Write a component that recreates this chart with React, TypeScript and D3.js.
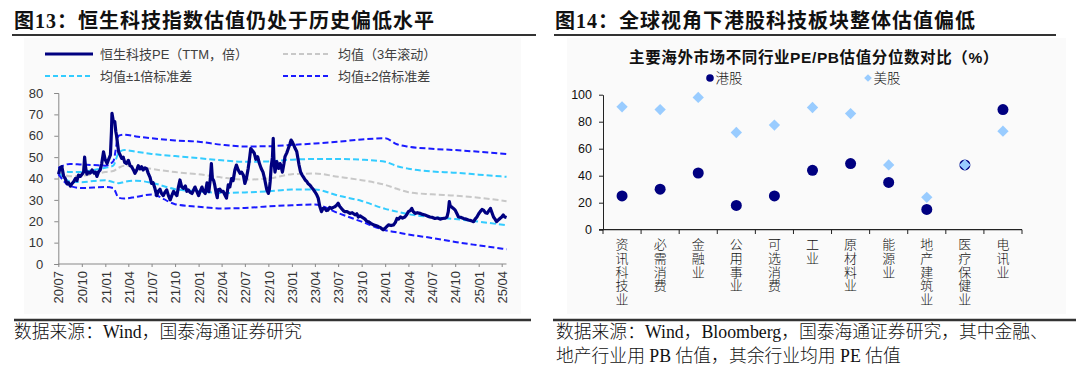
import React, { useEffect, useRef } from 'react';
import * as d3 from 'd3';

// ---- 图13 恒生科技PE(TTM) ----
const peDates = [
  '2020-07-02', '2020-07-08', '2020-07-15', '2020-07-22', '2020-07-28', '2020-08-04', '2020-08-10', '2020-08-17',
  '2020-08-23', '2020-08-30', '2020-09-06', '2020-09-12', '2020-09-18', '2020-09-25', '2020-10-02', '2020-10-08',
  '2020-10-12', '2020-10-16', '2020-10-21', '2020-10-28', '2020-11-03', '2020-11-10', '2020-11-18', '2020-11-24',
  '2020-11-29', '2020-12-05', '2020-12-12', '2020-12-18', '2020-12-25', '2020-12-31', '2021-01-08', '2021-01-14',
  '2021-01-21', '2021-01-25', '2021-01-27', '2021-02-01', '2021-02-07', '2021-02-11', '2021-02-14', '2021-02-18',
  '2021-02-22', '2021-02-28', '2021-03-06', '2021-03-12', '2021-03-18', '2021-03-25', '2021-04-01', '2021-04-08',
  '2021-04-14', '2021-04-21', '2021-04-27', '2021-05-04', '2021-05-10', '2021-05-17', '2021-05-23', '2021-05-29',
  '2021-06-05', '2021-06-12', '2021-06-18', '2021-06-25', '2021-07-01', '2021-07-07', '2021-07-14', '2021-07-21',
  '2021-07-27', '2021-08-03', '2021-08-09', '2021-08-16', '2021-08-22', '2021-08-29', '2021-09-05', '2021-09-12',
  '2021-09-18', '2021-09-25', '2021-10-01', '2021-10-08', '2021-10-14', '2021-10-20', '2021-10-27', '2021-11-03',
  '2021-11-10', '2021-11-16', '2021-11-22', '2021-11-29', '2021-12-06', '2021-12-12', '2021-12-18', '2021-12-25',
  '2022-01-01', '2022-01-07', '2022-01-14', '2022-01-20', '2022-01-27', '2022-02-03', '2022-02-10', '2022-02-16',
  '2022-02-20', '2022-02-24', '2022-03-01', '2022-03-05', '2022-03-11', '2022-03-15', '2022-03-18', '2022-03-25',
  '2022-04-01', '2022-04-07', '2022-04-14', '2022-04-20', '2022-04-27', '2022-05-03', '2022-05-10', '2022-05-16',
  '2022-05-23', '2022-05-29', '2022-06-05', '2022-06-12', '2022-06-18', '2022-06-25', '2022-07-01', '2022-07-07',
  '2022-07-14', '2022-07-20', '2022-07-24', '2022-07-31', '2022-08-07', '2022-08-13', '2022-08-20', '2022-08-27',
  '2022-09-03', '2022-09-10', '2022-09-16', '2022-09-21', '2022-09-25', '2022-10-01', '2022-10-05', '2022-10-08',
  '2022-10-12', '2022-10-17', '2022-10-20', '2022-10-23', '2022-10-27', '2022-11-03', '2022-11-10', '2022-11-16',
  '2022-11-21', '2022-11-25', '2022-12-01', '2022-12-05', '2022-12-12', '2022-12-18', '2022-12-24', '2022-12-29',
  '2023-01-03', '2023-01-08', '2023-01-14', '2023-01-20', '2023-01-29', '2023-02-04', '2023-02-10', '2023-02-16',
  '2023-02-22', '2023-03-01', '2023-03-05', '2023-03-12', '2023-03-18', '2023-03-25', '2023-04-01', '2023-04-08',
  '2023-04-14', '2023-04-20', '2023-04-27', '2023-05-03', '2023-05-10', '2023-05-16', '2023-05-22', '2023-05-29',
  '2023-06-05', '2023-06-12', '2023-06-18', '2023-06-25', '2023-07-01', '2023-07-07', '2023-07-14', '2023-07-21',
  '2023-07-27', '2023-08-05', '2023-08-16', '2023-08-25', '2023-09-05', '2023-09-12', '2023-09-18', '2023-09-25',
  '2023-10-01', '2023-10-08', '2023-10-14', '2023-10-21', '2023-10-27', '2023-11-06', '2023-11-16', '2023-11-25',
  '2023-12-05', '2023-12-14', '2023-12-24', '2024-01-03', '2024-01-14', '2024-01-24', '2024-02-03', '2024-02-10',
  '2024-02-16', '2024-02-22', '2024-03-01', '2024-03-09', '2024-03-18', '2024-03-25', '2024-04-01', '2024-04-08',
  '2024-04-14', '2024-04-20', '2024-04-27', '2024-05-06', '2024-05-16', '2024-05-26', '2024-06-05', '2024-06-14',
  '2024-06-24', '2024-07-04', '2024-07-14', '2024-07-24', '2024-08-03', '2024-08-12', '2024-08-24', '2024-08-30',
  '2024-09-04', '2024-09-08', '2024-09-12', '2024-09-16', '2024-09-24', '2024-10-01', '2024-10-08', '2024-10-14',
  '2024-10-24', '2024-11-03', '2024-11-12', '2024-11-22', '2024-12-02', '2024-12-12', '2024-12-18', '2024-12-25',
  '2025-01-01', '2025-01-07', '2025-01-14', '2025-01-20', '2025-01-27', '2025-02-03', '2025-02-10', '2025-02-16',
  '2025-02-22', '2025-02-28', '2025-03-06', '2025-03-12', '2025-03-18', '2025-03-25', '2025-04-01', '2025-04-07',
  '2025-04-13', '2025-04-20',
];
const peValues = [
  42, 45, 45.5, 41, 40, 37.5, 38, 36.5,
  37.5, 38.5, 40, 39, 41.6, 41, 42, 43,
  50, 45, 42, 43, 42.5, 44, 42.5, 43,
  41, 43, 44, 47, 52.5, 49, 47, 49,
  51, 62, 70.5, 67, 66.6, 62, 60, 56,
  52.5, 51, 49.4, 50, 47.5, 47, 48.5, 46,
  45.5, 44, 42.4, 44, 46, 44.5, 45.5, 44,
  45, 44.5, 42.4, 40.5, 37.7, 38, 35.4, 32,
  34, 35, 33, 32, 33.5, 34.7, 32, 30,
  32, 34, 33, 32, 36, 39.3, 36, 35.4,
  36.5, 34, 34.7, 33.5, 33, 34.5, 36, 34,
  32, 34, 36, 34, 33, 38, 33.8, 40,
  47, 40, 39, 37, 33, 31, 34.7, 35,
  33.8, 34, 32.3, 30.8, 37, 36, 40, 39,
  44, 46.3, 44, 42.4, 43, 41.6, 37.7, 40,
  44.7, 50, 54, 53, 51.8, 49, 50.2, 47,
  44.7, 43, 40, 37, 34.7, 33, 35, 38.5,
  45.5, 50, 58.8, 48, 43, 47.9, 44.7, 47,
  45, 43, 47, 50.2, 52, 54, 56, 58,
  57, 55.7, 54, 52.6, 46.3, 43, 41.6, 40.5,
  39.3, 38.5, 37.7, 37, 36, 35, 33.8, 32.5,
  30.8, 27, 24.5, 26, 26, 25, 25.2, 26.5,
  26, 26.5, 26.8, 27.5, 28.4, 27, 26, 25,
  24.5, 24.5, 23.7, 24, 23, 23.5, 22, 22.5,
  22, 21.5, 21, 20, 19.8, 19, 18.3, 18,
  17.5, 17, 16, 17, 18.3, 18, 18.3, 19.5,
  21.3, 21, 22, 21.5, 22, 23, 24.5, 25,
  26, 24.5, 23.7, 24, 23.7, 23.2, 22.9, 22.5,
  22, 21.8, 21.3, 21.5, 21, 21.3, 21.5, 22,
  24.5, 29.2, 27, 26.8, 26, 25.2, 23.5, 22,
  21.8, 21.3, 21, 20.6, 20.3, 19.8, 21, 22,
  23.5, 24.5, 25.5, 25.2, 24, 23.7, 25, 26,
  24, 22, 21, 19.8, 20.5, 21.3, 22, 22.9,
  22, 21.7,
];

// 3年滚动均值及标准差带
const bandDates = [
  '2020-07-01', '2020-08-16', '2020-10-01', '2020-11-16', '2021-01-01', '2021-02-01', '2021-02-22', '2021-03-16',
  '2021-05-01', '2021-07-01', '2021-10-01', '2022-01-01', '2022-04-01', '2022-07-01', '2022-10-01', '2023-01-01',
  '2023-04-01', '2023-07-01', '2023-10-01', '2024-01-01', '2024-02-16', '2024-04-01', '2024-07-01', '2024-10-01',
  '2025-01-01', '2025-04-20',
];
const meanValues = [43.5, 41, 41.3, 42, 43, 43.5, 45, 46, 45.8, 44.5, 43, 42, 40.5, 39.5, 40, 42, 42.3, 40.8, 39.2, 37, 35.2, 33.6, 32.6, 32, 31, 29.4];
const plus1Values = [44.5, 43, 43, 44, 45, 46, 52, 53.3, 52.5, 51.5, 50.5, 49.5, 48.5, 47.8, 48, 48.8, 49.1, 49.1, 48.8, 47.8, 45.8, 44.6, 43.3, 42.7, 41.8, 40.8];
const minus1Values = [43, 38.6, 38.3, 38.8, 39.2, 38.3, 37.8, 38.4, 39, 38, 35, 34, 33.2, 33.5, 34, 34.8, 34.8, 32, 29.5, 25.8, 24.5, 23.3, 22, 21, 19.8, 18.1];
const plus2Values = [45, 46.8, 46.5, 46.3, 46, 48, 60, 60.5, 59.7, 58.8, 57.8, 57.2, 55.8, 55, 55.1, 55.7, 56.4, 57.2, 58.3, 58.8, 56, 54.9, 53.9, 53.3, 52.5, 51.4];
const minus2Values = [42, 36.5, 35.5, 35.8, 36, 35.5, 31, 30.6, 31.4, 32.5, 28, 26.8, 26, 26.2, 27, 27.5, 27.8, 23.8, 19.8, 15.8, 14.8, 13.8, 12.2, 10.3, 8.7, 6.9];

const leftYTicks = [0, 10, 20, 30, 40, 50, 60, 70, 80];
const leftXTicks = [
  '20/07', '20/10', '21/01', '21/04', '21/07', '21/10', '22/01', '22/04', '22/07', '22/10',
  '23/01', '23/04', '23/07', '23/10', '24/01', '24/04', '24/07', '24/10', '25/01', '25/04',
];

// ---- 图14 分位数 ----
const industries = ['资讯科技业', '必需消费', '金融业', '公用事业', '可选消费', '工业', '原材料业', '能源业', '地产建筑业', '医疗保健业', '电讯业'];
const hkValues = [25, 30, 42, 18, 25, 44, 49, 35, 15, 48, 89];
const usValues = [91, 89, 98, 72, 77.5, 90.5, 86, 48, 24, 48, 73];
const rightYTicks = [0, 20, 40, 60, 80, 100];

const SANS = "'Liberation Sans', Arial, 'Noto Sans CJK SC', sans-serif";
const SERIF = "'Liberation Serif', 'Times New Roman', 'Noto Sans CJK SC', serif";

const parseDate = d3.timeParse('%Y-%m-%d');
const parseTick = d3.timeParse('%y/%m');

function App() {
  const ref = useRef<SVGSVGElement>(null);

  useEffect(() => {
    const svg = d3.select(ref.current);
    svg.selectAll('*').remove();

    // panel backgrounds
    svg.append('rect').attr('x', 24).attr('y', 38).attr('width', 497).attr('height', 276).attr('fill', '#fafafa');
    svg.append('rect').attr('x', 567).attr('y', 38).attr('width', 499).attr('height', 276).attr('fill', '#fafafa');

    // titles + rules
    const titles = [
      { x: 14, text: '图13：恒生科技指数估值仍处于历史偏低水平', x1: 12, x2: 536 },
      { x: 555, text: '图14：全球视角下港股科技板块整体估值偏低', x1: 554, x2: 1056 },
    ];
    titles.forEach(t => {
      svg.append('text').attr('x', t.x).attr('y', 28).text(t.text)
        .attr('font-family', SERIF).attr('font-weight', 'bold').attr('font-size', 20)
        .attr('letter-spacing', 1).attr('fill', '#111');
      svg.append('line').attr('x1', t.x1).attr('x2', t.x2).attr('y1', 35).attr('y2', 35)
        .attr('stroke', '#333').attr('stroke-width', 2.2);
    });

    // footers
    svg.append('line').attr('x1', 14).attr('x2', 531).attr('y1', 320).attr('y2', 320).attr('stroke', '#333').attr('stroke-width', 2.5);
    svg.append('line').attr('x1', 553).attr('x2', 1076).attr('y1', 320).attr('y2', 320).attr('stroke', '#333').attr('stroke-width', 2.5);
    const footers = [
      { x: 14, y: 338, text: '数据来源：Wind，国泰海通证券研究' },
      { x: 556, y: 338, text: '数据来源：Wind，Bloomberg，国泰海通证券研究，其中金融、' },
      { x: 556, y: 362, text: '地产行业用 PB 估值，其余行业均用 PE 估值' },
    ];
    footers.forEach(f => {
      svg.append('text').attr('x', f.x).attr('y', f.y).text(f.text)
        .attr('font-family', SERIF).attr('font-weight', 300).attr('font-size', 17.8).attr('fill', '#111');
    });

    drawLeft(svg);
    drawRight(svg);
  }, []);

  const drawLeft = (svg: any) => {
    const x = d3.scaleTime()
      .domain([parseDate('2020-07-01') as Date, parseDate('2025-04-01') as Date])
      .range([58.3, 501.7]);
    const y = d3.scaleLinear().domain([0, 80]).range([264, 93]);

    const g = svg.append('g');

    // y axis
    const yAxis = g.append('g').attr('transform', 'translate(58.3,0)')
      .call(d3.axisLeft(y).tickValues(leftYTicks).tickSize(4).tickPadding(11));
    yAxis.selectAll('path, line').attr('stroke', '#888');
    yAxis.selectAll('text').attr('font-family', SANS).attr('font-size', 13).attr('fill', '#333');

    // x axis
    const xAxis = g.append('g').attr('transform', 'translate(0,264)')
      .call(d3.axisBottom(x).tickValues(leftXTicks.map(d => parseTick(d) as Date))
        .tickFormat((d: any) => d3.timeFormat('%y/%m')(d)).tickSize(3).tickSizeOuter(0));
    xAxis.select('.domain').attr('d', 'M58.3,0H506.5');
    xAxis.selectAll('path, line').attr('stroke', '#888');
    xAxis.selectAll('text')
      .attr('transform', 'rotate(-90)')
      .attr('x', -7).attr('y', 0).attr('dy', '0.36em')
      .attr('text-anchor', 'end')
      .attr('font-family', SANS).attr('font-size', 13).attr('fill', '#333');

    const bandLine = d3.line<number>()
      .x((d, i) => x(parseDate(bandDates[i]) as Date))
      .y(d => y(d))
      .curve(d3.curveMonotoneX);

    const bands = [
      { values: meanValues, color: '#c8c8c8' },
      { values: plus1Values, color: '#33ccff' },
      { values: minus1Values, color: '#33ccff' },
      { values: plus2Values, color: '#1a1aff' },
      { values: minus2Values, color: '#1a1aff' },
    ];
    bands.forEach(b => {
      g.append('path').attr('d', bandLine(b.values))
        .attr('fill', 'none').attr('stroke', b.color).attr('stroke-width', 2)
        .attr('stroke-dasharray', '6,3');
    });

    const peLine = d3.line<number>()
      .x((d, i) => x(parseDate(peDates[i]) as Date))
      .y(d => y(d));
    g.append('path').attr('d', peLine(peValues))
      .attr('fill', 'none').attr('stroke', '#000080').attr('stroke-width', 3.2)
      .attr('stroke-linejoin', 'round');

    // legend
    const legend = [
      { x: 45, y: 54, label: '恒生科技PE（TTM，倍）', color: '#000080', dash: null, w: 3 },
      { x: 283, y: 54, label: '均值（3年滚动）', color: '#c8c8c8', dash: '5,3', w: 2 },
      { x: 45, y: 76, label: '均值±1倍标准差', color: '#33ccff', dash: '5,3', w: 2 },
      { x: 283, y: 76, label: '均值±2倍标准差', color: '#1a1aff', dash: '5,3', w: 2 },
    ];
    legend.forEach(l => {
      g.append('line').attr('x1', l.x).attr('x2', l.x + 48).attr('y1', l.y).attr('y2', l.y)
        .attr('stroke', l.color).attr('stroke-width', l.w)
        .attr('stroke-dasharray', l.dash);
      g.append('text').attr('x', l.x + 55).attr('y', l.y).attr('dy', '0.36em').text(l.label)
        .attr('font-family', SANS).attr('font-size', 13).attr('fill', '#404040');
    });
  };

  const drawRight = (svg: any) => {
    const x = d3.scaleBand().domain(industries).range([603, 1022]);
    const y = d3.scaleLinear().domain([0, 100]).range([229.7, 94.7]);
    const g = svg.append('g');

    svg.append('text').attr('x', 814).attr('y', 63).attr('text-anchor', 'middle')
      .text('主要海外市场不同行业PE/PB估值分位数对比（%）')
      .attr('font-family', SANS).attr('font-weight', 'bold').attr('font-size', 15.5)
      .attr('letter-spacing', 0.6).attr('fill', '#111');

    // legend
    g.append('circle').attr('cx', 710).attr('cy', 78).attr('r', 3.8).attr('fill', '#000080');
    g.append('text').attr('x', 715.5).attr('y', 78).attr('dy', '0.36em').text('港股')
      .attr('font-family', SERIF).attr('font-weight', 300).attr('font-size', 13.5).attr('fill', '#111');
    g.append('path').attr('d', d3.symbol(d3.symbolSquare, 30)())
      .attr('transform', 'translate(868,78) rotate(45)').attr('fill', '#99ccff');
    g.append('text').attr('x', 873.5).attr('y', 78).attr('dy', '0.36em').text('美股')
      .attr('font-family', SERIF).attr('font-weight', 300).attr('font-size', 13.5).attr('fill', '#111');

    // y axis
    const yAxis = g.append('g').attr('transform', 'translate(603,0)')
      .call(d3.axisLeft(y).tickValues(rightYTicks).tickSize(4).tickPadding(7).tickSizeOuter(0));
    yAxis.selectAll('path, line').attr('stroke', '#222');
    yAxis.selectAll('text').attr('font-family', SANS).attr('font-size', 12.5).attr('fill', '#111');

    // x axis line + boundary ticks
    g.append('line').attr('x1', 599).attr('x2', 1022).attr('y1', 229.7).attr('y2', 229.7)
      .attr('stroke', '#222').attr('stroke-width', 1.2);
    const bounds = industries.map(d => x(d) as number).concat([x.range()[1]]);
    g.selectAll('.xtick').data(bounds).enter().append('line')
      .attr('x1', (d: number) => d).attr('x2', (d: number) => d)
      .attr('y1', 229.7).attr('y2', 234).attr('stroke', '#222');

    // vertical category labels
    industries.forEach(name => {
      const cx = (x(name) as number) + x.bandwidth() / 2;
      name.split('').forEach((ch, i) => {
        g.append('text').attr('x', cx).attr('y', 244.3 + i * 13.8).attr('dy', '0.36em')
          .attr('text-anchor', 'middle').text(ch)
          .attr('font-family', SERIF).attr('font-weight', 300).attr('font-size', 13).attr('fill', '#111');
      });
    });

    // 港股
    g.selectAll('.hk').data(hkValues).enter().append('circle')
      .attr('cx', (d: number, i: number) => (x(industries[i]) as number) + x.bandwidth() / 2)
      .attr('cy', (d: number) => y(d))
      .attr('r', 5.5).attr('fill', '#000080');

    // 美股
    g.selectAll('.us').data(usValues).enter().append('path')
      .attr('d', d3.symbol(d3.symbolSquare, 64)())
      .attr('transform', (d: number, i: number) =>
        `translate(${(x(industries[i]) as number) + x.bandwidth() / 2},${y(d)}) rotate(45)`)
      .attr('fill', '#99ccff');
  };

  return (
    <svg ref={ref} width={1080} height={373}
      style={{ position: 'absolute', left: 0, top: 0, background: '#fff' }} />
  );
}

export default App;
